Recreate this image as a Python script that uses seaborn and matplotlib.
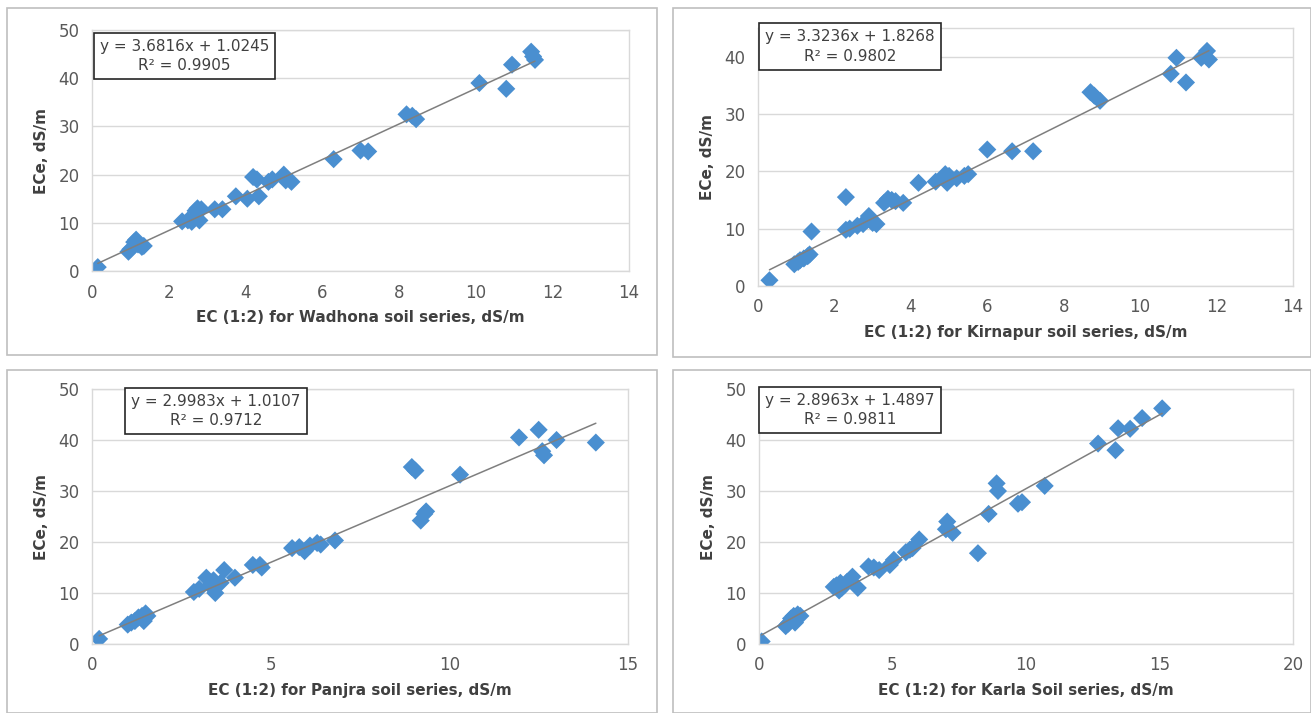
#!/usr/bin/env python

import numpy as np
import pandas as pd
import matplotlib
matplotlib.use("Agg")
import matplotlib.pyplot as plt
from matplotlib.patches import Rectangle
import seaborn as sns

# ---- data ----
wadhona_x = [0.15, 0.95, 1.0, 1.1, 1.15, 1.2, 1.3, 1.35, 2.35, 2.5, 2.6, 2.7, 2.75, 2.8, 2.85,
             3.2, 3.4, 3.75, 4.05, 4.2, 4.3, 4.35, 4.6, 4.7, 5.0, 5.05, 5.2, 6.3, 7.0, 7.2,
             8.2, 8.35, 8.45, 10.1, 10.8, 10.95, 11.45, 11.5, 11.55]
wadhona_y = [0.8, 4.0, 4.5, 6.0, 6.5, 5.5, 5.0, 5.2, 10.3, 10.5, 10.2, 12.5, 13.0, 10.5, 12.8,
             12.8, 12.8, 15.5, 15.0, 19.5, 19.0, 15.5, 18.5, 19.0, 20.0, 18.8, 18.5, 23.2, 25.0, 24.8,
             32.5, 32.2, 31.5, 39.0, 37.8, 42.8, 45.5, 44.5, 43.8]

kirnapur_x = [0.3, 0.95, 1.05, 1.1, 1.2, 1.3, 1.35, 1.4, 2.3, 2.3, 2.4, 2.6, 2.75, 2.85, 2.9,
              3.0, 3.1, 3.3, 3.4, 3.5, 3.6, 3.8, 4.2, 4.65, 4.9, 4.95, 5.0, 5.2, 5.4, 5.5,
              6.0, 6.65, 7.2, 8.7, 8.8, 8.95, 10.8, 10.95, 11.2, 11.6, 11.75, 11.8]
kirnapur_y = [1.0, 3.8, 4.2, 4.5, 4.8, 5.2, 5.5, 9.5, 15.5, 9.8, 10.0, 10.5, 10.8, 11.5, 12.2,
              11.0, 10.8, 14.5, 15.2, 15.0, 14.8, 14.5, 18.0, 18.2, 19.5, 18.0, 19.2, 18.8, 19.2, 19.5,
              23.8, 23.5, 23.5, 33.8, 33.2, 32.3, 37.0, 39.8, 35.5, 39.8, 41.0, 39.5]

panjra_x = [0.2, 1.0, 1.1, 1.2, 1.3, 1.4, 1.45, 1.5, 1.55, 2.85, 3.0, 3.2, 3.3, 3.4, 3.45,
            3.6, 3.7, 4.0, 4.5, 4.7, 4.75, 5.6, 5.8, 5.95, 6.1, 6.3, 6.4, 6.8, 8.95, 9.05,
            9.2, 9.3, 9.35, 10.3, 11.95, 12.5, 12.6, 12.65, 13.0, 14.1]
panjra_y = [1.0, 3.8, 4.2, 4.5, 5.2, 5.5, 4.5, 6.0, 5.5, 10.2, 10.8, 13.0, 11.5, 12.5, 10.0,
            12.0, 14.5, 13.0, 15.5, 15.5, 15.0, 18.8, 19.0, 18.2, 19.3, 19.8, 19.5, 20.3, 34.7, 34.0,
            24.2, 25.5, 26.0, 33.2, 40.5, 42.0, 37.8, 37.0, 40.0, 39.5]

karla_x = [0.1, 1.0, 1.1, 1.2, 1.3, 1.35, 1.45, 1.55, 2.8, 2.9, 3.0, 3.05, 3.1, 3.2, 3.3,
           3.5, 3.7, 4.1, 4.3, 4.5, 4.9, 5.05, 5.5, 5.65, 5.75, 6.0, 7.0, 7.05, 7.25, 8.2,
           8.6, 8.9, 8.95, 9.7, 9.85, 10.7, 12.7, 13.35, 13.45, 13.9, 14.35, 15.1]
karla_y = [0.5, 3.5, 4.0, 5.0, 5.5, 4.2, 5.8, 5.5, 11.2, 11.5, 10.5, 12.0, 11.0, 11.5, 12.2,
           13.2, 11.0, 15.2, 15.0, 14.5, 15.5, 16.5, 18.0, 18.5, 18.8, 20.5, 22.5, 24.0, 21.8, 17.8,
           25.5, 31.5, 30.0, 27.5, 27.8, 31.0, 39.3, 38.0, 42.3, 42.2, 44.3, 46.2]

series_names = ["Wadhona", "Kirnapur", "Panjra", "Karla"]
xlabels = ["EC (1:2) for Wadhona soil series, dS/m", "EC (1:2) for Kirnapur soil series, dS/m",
           "EC (1:2) for Panjra soil series, dS/m", "EC (1:2) for Karla Soil series, dS/m"]
slopes = [3.6816, 3.3236, 2.9983, 2.8963]
intercepts = [1.0245, 1.8268, 1.0107, 1.4897]
r2_values = [0.9905, 0.9802, 0.9712, 0.9811]


def main():
    sns.set_style("white")
    plt.rcParams["font.family"] = ["DejaVu Sans"]

    W, H = 1311, 713
    fig = plt.figure(figsize=(W / 100, H / 100), dpi=100)

    # panel frames (left, top, right, bottom in pixels)
    frames = [(7, 8, 657, 355), (673, 8, 1311, 357), (7, 370, 657, 713), (673, 370, 1311, 713)]
    for l, t, r, b in frames:
        fig.patches.append(Rectangle((l / W, 1 - b / H), (r - l) / W, (b - t) / H,
                                     transform=fig.transFigure, fill=False,
                                     edgecolor="#bfbfbf", linewidth=1.2))

    # plot areas (left, top, right, bottom in pixels)
    areas = [(92, 30, 629, 271), (758, 28, 1293, 286), (92, 389, 628, 644), (759, 389, 1293, 644)]
    xlims = [(0, 14), (0, 14), (0, 15), (0, 20)]
    ylims = [(0, 50), (0, 45), (0, 50), (0, 50)]
    xsteps = [2, 2, 5, 5]
    box_pos = [(0.172, 0.892), (0.172, 0.928), (0.231, 0.913), (0.170, 0.917)]

    data = [(wadhona_x, wadhona_y), (kirnapur_x, kirnapur_y),
            (panjra_x, panjra_y), (karla_x, karla_y)]

    for i, (xs, ys) in enumerate(data):
        l, t, r, b = areas[i]
        ax = fig.add_axes([l / W, 1 - b / H, (r - l) / W, (b - t) / H])
        df = pd.DataFrame({"x": xs, "y": ys})

        # trendline from the printed equation
        xline = np.array([min(xs), max(xs)])
        ax.plot(xline, slopes[i] * xline + intercepts[i], color="#7f7f7f", lw=1.1, zorder=3)

        sns.scatterplot(data=df, x="x", y="y", marker="D", s=85, color="#4a8fd0",
                        edgecolor="none", linewidth=0, ax=ax, zorder=2)

        ax.set_xlim(*xlims[i])
        ax.set_ylim(*ylims[i])
        ax.set_xticks(np.arange(xlims[i][0], xlims[i][1] + 0.1, xsteps[i]))
        ax.set_yticks(np.arange(0, 41 if ylims[i][1] == 45 else 51, 10))
        ax.grid(axis="y", color="#d9d9d9", lw=1)
        ax.set_axisbelow(True)
        for sp in ax.spines.values():
            sp.set_color("#d9d9d9")
            sp.set_linewidth(1)
        ax.tick_params(length=0, labelsize=12, labelcolor="#595959", pad=9)

        ax.set_xlabel(xlabels[i], fontsize=11, fontweight="bold", color="#404040", labelpad=6)
        ax.set_ylabel("ECe, dS/m", fontsize=11, fontweight="bold", color="#404040", labelpad=7)

        txt = "y = %.4fx + %.4f\nR² = %.4f" % (slopes[i], intercepts[i], r2_values[i])
        ax.text(box_pos[i][0], box_pos[i][1], txt, transform=ax.transAxes,
                ha="center", va="center", fontsize=11, color="#404040", linespacing=1.35,
                bbox=dict(boxstyle="square,pad=0.4", facecolor="white",
                          edgecolor="#262626", linewidth=1.2), zorder=5)

    fig.savefig("out.png", dpi=100)


if __name__ == '__main__':
    main()
